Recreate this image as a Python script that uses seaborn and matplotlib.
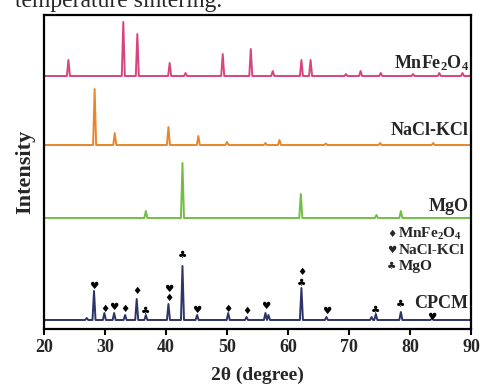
import matplotlib
matplotlib.use("Agg")
import matplotlib.pyplot as plt
import seaborn as sns
import pandas as pd

# ---------------- data ----------------
# peak positions (2theta, degree) and peak heights (arbitrary units)
mnfe_pos = [24.0, 33.0, 35.3, 40.6, 43.2, 49.3, 53.9, 57.5, 62.2, 63.7, 69.5, 71.9, 75.2, 80.5, 84.8, 88.6]
mnfe_h   = [16, 54, 42, 13, 3, 22, 27, 5, 16, 16, 2, 5, 3, 2, 3, 3]

nakcl_pos = [28.3, 31.6, 40.4, 45.3, 50.0, 56.3, 58.6, 66.2, 75.1, 83.8]
nakcl_h   = [56, 12, 18, 9, 3, 2, 5, 1.5, 2, 2]

mgo_pos = [36.7, 42.7, 62.1, 74.5, 78.5]
mgo_h   = [7, 55, 24, 3, 7]

cpcm_pos = [27.0, 28.2, 29.9, 31.5, 33.3, 35.2, 36.7, 40.4, 42.7, 45.1, 50.2, 53.2, 56.3, 56.8, 62.2, 66.3, 73.7, 74.4, 78.5, 83.6]
cpcm_h   = [2, 29, 7, 7, 5, 21, 5, 16, 54, 5, 7, 3, 7, 5, 32, 3, 3, 6, 8, 1.5]

series_names = ["MnFe2O4", "NaCl-KCl", "MgO", "CPCM"]
series_offsets = [253, 184, 111, 9]
series_colors = ["#D8447F", "#E8862E", "#72BE45", "#2D3568"]
series_labels = [r"$\mathbf{MnFe_2O_4}$", "NaCl-KCl", "MgO", "CPCM"]

# phase marks over the CPCM pattern: (2theta, height above axis, symbol)
mark_pos = [28.2, 29.9, 31.5, 33.3, 35.2, 36.7, 40.4, 40.4, 42.7, 45.1, 50.2, 53.2, 56.3, 62.2, 62.2, 66.3, 74.4, 78.5, 83.6]
mark_y   = [43, 20, 22, 20, 38, 18, 40, 31, 74, 19, 20, 18, 23, 57, 46, 18, 19, 25, 12]
mark_sym = ["♥", "♦", "♥", "♦", "♦", "♣", "♥", "♦", "♣", "♥", "♦", "♦", "♥", "♦", "♣", "♥", "♣", "♣", "♥"]

legend_sym = ["♦", "♥", "♣"]
legend_txt = [r"$\mathbf{MnFe_2O_4}$", "NaCl-KCl", "MgO"]

x_ticks = [20, 30, 40, 50, 60, 70, 80, 90]

# ---------------- build traces ----------------
half_w = 0.25
rows = []
for name, pos, hts, off in zip(series_names, [mnfe_pos, nakcl_pos, mgo_pos, cpcm_pos],
                               [mnfe_h, nakcl_h, mgo_h, cpcm_h], series_offsets):
    rows.append((name, 20.0, off))
    for p, h in zip(pos, hts):
        rows.append((name, p - half_w, off))
        rows.append((name, p, off + h))
        rows.append((name, p + half_w, off))
    rows.append((name, 90.0, off))
df = pd.DataFrame(rows, columns=["series", "two_theta", "intensity"])

# ---------------- plot ----------------
sns.set_theme(style="ticks")
plt.rcParams["font.family"] = ["Liberation Serif", "DejaVu Sans"]
plt.rcParams["font.weight"] = "bold"
plt.rcParams["mathtext.fontset"] = "custom"
plt.rcParams["mathtext.rm"] = "Liberation Serif"
plt.rcParams["mathtext.bf"] = "Liberation Serif:bold"

fig = plt.figure(figsize=(4.81, 3.88), dpi=100)
ax = fig.add_axes([44 / 481, 59 / 388, 427 / 481, 314 / 388])

sns.lineplot(data=df, x="two_theta", y="intensity", hue="series",
             palette=dict(zip(series_names, series_colors)),
             hue_order=series_names, sort=False, linewidth=1.4,
             legend=False, ax=ax, estimator=None)

ax.set_xlim(20, 90)
ax.set_ylim(0, 314)
ax.set_xticks(x_ticks)
ax.set_xticklabels([str(t) for t in x_ticks], fontsize=13, fontweight="bold")
ax.set_yticks([])
ax.tick_params(axis="x", direction="out", length=4, width=1.5, pad=3, color="black")
for sp in ax.spines.values():
    sp.set_linewidth(1.6)
    sp.set_color("black")
    sp.set_visible(True)

ax.set_xlabel("2θ (degree)", fontsize=14, fontweight="bold", labelpad=8)
ax.set_ylabel("Intensity", fontsize=16, fontweight="bold", labelpad=6)

# pattern labels
label_base = [261, 194, 118, 21]
for lab, yb in zip(series_labels, label_base):
    ax.text(89.6, yb, lab, ha="right", va="baseline", fontsize=13, fontweight="bold")

# phase marks
for xp, yp, s in zip(mark_pos, mark_y, mark_sym):
    ax.text(xp, yp, s, ha="center", va="center", fontsize=7.5,
            family=["DejaVu Sans"], color="black")

# legend of symbols
leg_base = [91, 75, 59]
for s, t, yb in zip(legend_sym, legend_txt, leg_base):
    ax.text(77.0, yb + 4, s, ha="center", va="center", fontsize=7.5, family=["DejaVu Sans"])
    ax.text(78.1, yb, t, ha="left", va="baseline", fontsize=11, fontweight="bold")

# fragment of the caption above the chart
fig.text(222 / 481, 1 - 7 / 388, "temperature sintering.", ha="right", va="baseline",
         fontsize=17, fontweight="normal", family=["Liberation Serif"])

fig.savefig("out.png", dpi=100)
